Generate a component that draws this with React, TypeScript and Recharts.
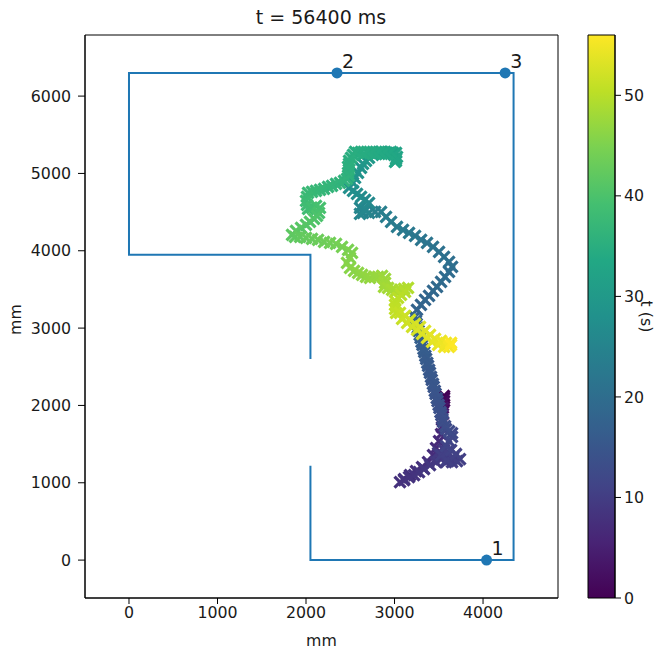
import React from "react";
import { ScatterChart, Scatter, XAxis, YAxis, ReferenceArea, BarChart, Bar } from "recharts";

const FONT = "'DejaVu Sans', sans-serif";
const TEXT = "#1a1a1a";
const BLUE = "#1f77b4";

const trajT = [
  0,0.4,0.8,1.2,1.6,3,4,5,6,6.5,6.8,7,7.2,7.4,7.5,7.6,7.7,7.8,7.9,
  8,8.15,8.3,8.5,8.7,8.9,9.1,9.3,9.5,9.7,9.8,9.9,10,10.15,10.3,
  10.4,10.45,10.5,10.55,10.6,10.9,11.2,11.5,11.8,12.1,12.4,12.7,
  13,13.2,13.35,13.5,13.65,13.8,13.95,14.1,14.25,14.4,14.55,14.7,14.85,15,15.15,15.3,15.45,15.6,15.75,15.9,16.05,16.2,16.35,16.5,16.65,16.8,16.95,17.1,17.2,17.3,17.4,17.5,
  17.6,17.9,18.2,18.4,18.7,19,19.3,19.6,19.8,20,20.3,20.6,20.9,21.2,21.5,21.8,22.1,22.4,22.7,23,23.3,23.6,24,24.3,24.6,24.9,25.2,25.5,25.8,26.1,26.4,26.7,27,27.3,27.6,
  27.9,28.2,28.5,28.8,29.1,29.5,30,30.4,
  30.8,31.1,31.4,31.7,32,32.2,32.4,32.6,32.8,33,33.2,33.4,33.6,33.7,33.8,33.9,34,34.1,34.2,34.3,34.4,34.5,34.6,34.7,34.8,
  34.9,35,35.1,35.2,35.3,35.4,35.5,35.7,
  35.9,36.05,36.2,36.4,36.6,36.8,37,37.2,37.4,37.6,37.8,38,38.2,38.5,38.8,39.1,39.4,39.7,40,40.3,40.6,40.9,41.2,41.5,41.8,42,
  42.3,42.6,42.9,43.2,43.5,43.8,44.1,44.4,44.7,
  45,45.3,45.6,45.9,46.1,46.3,46.5,46.7,46.9,47.1,47.3,47.5,47.7,47.9,48.1,48.3,48.6,48.8,49,49.2,49.5,49.7,49.9,50.1,50.3,50.5,50.7,50.9,
  51.1,51.3,51.5,51.7,51.9,52.1,52.3,52.5,52.7,52.9,53.1,53.3,53.5,53.7,53.9,54.1,54.3,54.6,54.9,55.3,55.7,56.4,
];
const trajX = [
  3560,3560,3548,3560,3548,3548,3548,3537,3537,3526,3503,3469,3435,3379,3311,3243,3175,3108,3062,
  3108,3164,3221,3277,3334,3401,3469,3526,3492,3560,3605,3582,3650,3706,3740,
  3661,3593,3526,3593,3695,3639,3582,3616,3650,3650,3616,3582,
  3571,3549,3540,3529,3519,3507,3498,3486,3477,3464,3455,3443,3434,3421,3412,3400,3391,3379,3370,3357,3348,3336,3327,3315,3305,3294,3284,3272,3263,3251,3242,3230,
  3254,3299,3345,3390,3435,3480,3526,3571,3616,3650,3616,3560,3503,3435,3367,3300,3232,3164,3096,3028,2961,2904,2848,2780,2712,2644,2610,2610,2667,2712,2667,2622,2576,2531,2486,
  2531,2554,2588,2622,2644,2678,2712,2757,
  2802,2848,2893,2938,2983,3017,3028,3017,3006,3017,2995,2961,2927,2893,2859,2825,2791,2757,2723,2690,2656,2622,2588,2554,2531,
  2509,2486,2486,2475,2486,2475,2486,2463,
  2430,2384,2339,2294,2249,2204,2158,2113,2068,2023,2011,2000,2011,2023,2068,2113,2158,2147,2124,2091,2045,2000,1944,1887,1842,1876,
  1933,2000,2068,2136,2204,2271,2339,2407,2475,
  2520,2497,2463,2497,2543,2588,2633,2678,2723,2769,2814,2859,2893,2893,2881,2927,2972,3017,3062,3108,3153,3119,3074,3040,3006,3006,3006,3017,
  3062,3085,3119,3142,3175,3198,3232,3254,3288,3311,3345,3367,3401,3424,3458,3492,3526,3560,3582,3616,3639,3639,
];
const trajY = [
  2122,2096,2070,2057,2032,1967,1889,1812,1721,1630,1540,1449,1359,1268,1203,1152,1100,1048,1009,
  1035,1074,1100,1139,1178,1229,1268,1307,1385,1423,1359,1268,1268,1281,1307,
  1320,1294,1359,1398,1372,1423,1475,1540,1592,1643,1669,1695,
  1734,1786,1825,1876,1915,1967,2006,2057,2096,2148,2187,2239,2278,2329,2368,2420,2459,2511,2549,2601,2640,2691,2730,2782,2821,2873,2911,2963,3002,3054,3093,3144,
  3235,3300,3364,3416,3481,3533,3597,3662,3727,3791,3856,3921,3986,4050,4102,4141,4193,4231,4270,4309,4374,4438,4503,4503,4490,4490,4477,4555,4529,4620,4658,4697,4736,4775,4814,
  4878,4943,5008,5072,5124,5163,5202,5241,
  5267,5280,5254,5267,5267,5267,5215,5163,5150,5189,5241,5280,5254,5280,5254,5280,5254,5280,5267,5280,5254,5280,5267,5280,5241,
  5202,5163,5124,5085,5047,5008,4969,4930,
  4904,4878,4865,4840,4827,4801,4788,4775,4762,4749,4697,4645,4594,4542,4555,4581,4555,4490,4451,4413,4374,4335,4296,4257,4205,4180,
  4180,4167,4154,4141,4115,4102,4089,4050,4011,
  3973,3908,3843,3778,3740,3714,3688,3662,3649,3662,3662,3675,3636,3584,3533,3520,3494,3481,3494,3507,3520,3468,3429,3390,3351,3300,3248,3196,
  3196,3119,3157,3067,3106,3015,3054,2976,3015,2924,2963,2873,2911,2821,2860,2782,2834,2756,2808,2756,2808,2782,
];

const wallX = [2050,2050,4345,4345,0,0,2050,2050];
const wallY = [1220,0,0,6300,6300,3950,3950,2600];
const anchorX = [4040,2350,4250];
const anchorY = [0,6300,6300];
const anchorLabels = ["1","2","3"];
const xTicks = [0,1000,2000,3000,4000];
const yTicks = [0,1000,2000,3000,4000,5000,6000];
const cbTicks = [0,10,20,30,40,50];
const T_MAX = 56;

const VIRIDIS = ["#440154","#482475","#414487","#355f8d","#2a788e","#21918c","#22a884","#44bf70","#7ad151","#bddf26","#fde725"];

function hexToRgb(h: string) {
  return [1,3,5].map((i) => parseInt(h.slice(i, i + 2), 16));
}
function viridis(f: number) {
  const p = Math.max(0, Math.min(1, f)) * 10;
  const i = Math.min(9, Math.floor(p));
  const a = hexToRgb(VIRIDIS[i]);
  const b = hexToRgb(VIRIDIS[i + 1]);
  const c = a.map((v, k) => Math.round(v + (b[k] - v) * (p - i)));
  return `rgb(${c[0]},${c[1]},${c[2]})`;
}

const traj = trajT.map((t, i) => ({ t, x: trajX[i], y: trajY[i] }));
const walls = wallX.map((x, i) => ({ x, y: wallY[i] }));
const anchors = anchorX.map((x, i) => ({ x, y: anchorY[i], label: anchorLabels[i] }));

const Cross = (p: any) => {
  const r = 5.5;
  const c = viridis(p.payload.t / T_MAX);
  return (
    <path
      d={`M${p.cx - r},${p.cy - r}L${p.cx + r},${p.cy + r}M${p.cx - r},${p.cy + r}L${p.cx + r},${p.cy - r}`}
      stroke={c}
      strokeWidth={3.2}
      fill="none"
    />
  );
};

const Anchor = (p: any) => (
  <g>
    <circle cx={p.cx} cy={p.cy} r={5.5} fill={BLUE} />
    <text x={p.cx + 5} y={p.cy - 5} fontSize={19} fontFamily={FONT} fill={TEXT}>
      {p.payload.label}
    </text>
  </g>
);

const tickStyle = { fontSize: 15.8, fontFamily: FONT, fill: TEXT };
const labelStyle = { fontSize: 15.8, fontFamily: FONT, fill: TEXT };

export default function App() {
  return (
    <div style={{ position: "absolute", left: 0, top: 0, width: 655, height: 649, background: "#fff" }}>
      <div style={{ position: "absolute", left: 0, top: 0 }}>
        <ScatterChart width={655} height={649} margin={{ top: 35, right: 97, bottom: 0, left: 0 }}>
          <XAxis
            type="number"
            dataKey="x"
            domain={[-497, 4847]}
            ticks={xTicks}
            height={51}
            tick={tickStyle}
            tickSize={6}
            tickMargin={3}
            stroke="#000"
            allowDataOverflow
            label={{ value: "mm", position: "insideBottom", offset: 3, style: labelStyle }}
          />
          <YAxis
            type="number"
            dataKey="y"
            domain={[-490, 6790]}
            ticks={yTicks}
            width={85}
            tick={tickStyle}
            tickSize={7}
            tickMargin={7}
            stroke="#000"
            allowDataOverflow
            label={{ value: "mm", angle: -90, position: "insideLeft", offset: 15, dy: 3, style: { ...labelStyle, textAnchor: "middle" } }}
          />
          <ReferenceArea x1={-497} x2={4847} y1={-490} y2={6790} fill="none" stroke="#000" strokeWidth={1} />
          <Scatter data={walls} isAnimationActive={false} line={{ stroke: BLUE, strokeWidth: 2 }} shape={() => <g />} />
          <Scatter data={anchors} isAnimationActive={false} shape={Anchor} />
          <Scatter data={traj} isAnimationActive={false} shape={Cross} />
          <text x={321} y={24} textAnchor="middle" fontSize={19} fontFamily={FONT} fill={TEXT}>
            t = 56400 ms
          </text>
        </ScatterChart>
      </div>
      <div style={{ position: "absolute", left: 0, top: 0, pointerEvents: "none" }}>
        <BarChart
          width={655}
          height={649}
          data={[{ name: "t", value: T_MAX }]}
          margin={{ top: 35, right: 0, bottom: 51, left: 588 }}
          barCategoryGap={0}
        >
          <defs>
            <linearGradient id="viridisGrad" x1="0" y1="1" x2="0" y2="0">
              {VIRIDIS.map((c, i) => (
                <stop key={c} offset={`${i * 10}%`} stopColor={c} />
              ))}
            </linearGradient>
          </defs>
          <XAxis dataKey="name" hide />
          <YAxis
            orientation="right"
            type="number"
            domain={[0, T_MAX]}
            ticks={cbTicks}
            width={40}
            tick={tickStyle}
            tickSize={6}
            tickMargin={3}
            stroke="#000"
            label={{ value: "t (s)", angle: 90, position: "insideRight", offset: 8, style: { ...labelStyle, textAnchor: "middle" } }}
          />
          <Bar dataKey="value" fill="url(#viridisGrad)" stroke="#000" strokeWidth={1} isAnimationActive={false} />
        </BarChart>
      </div>
    </div>
  );
}
